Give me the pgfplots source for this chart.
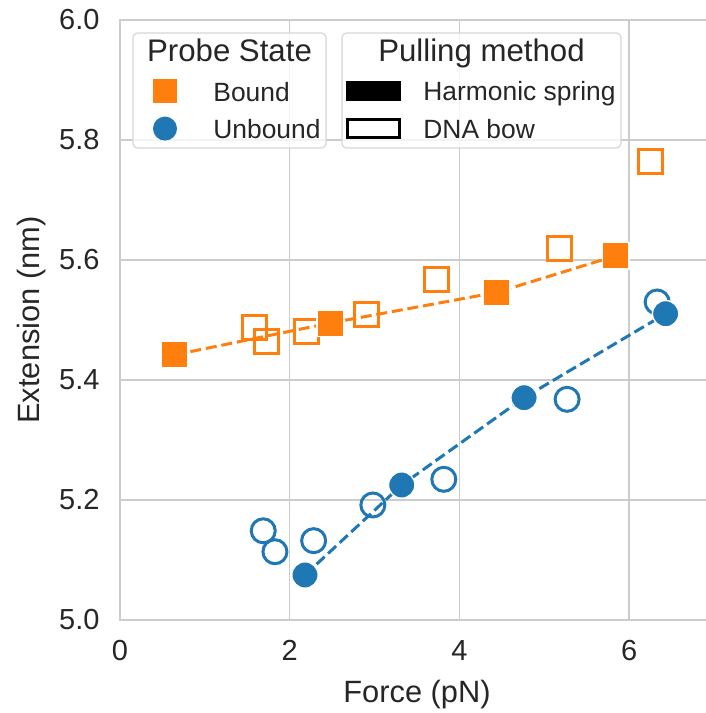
\documentclass[border=0pt]{standalone}
\usepackage{fontspec}
\setmainfont{Liberation Sans}
\usepackage{pgfplots}
\pgfplotsset{compat=1.18}
\definecolor{cOr}{HTML}{FF7F0E}
\definecolor{cBl}{HTML}{1F77B4}
\definecolor{cGr}{HTML}{CCCCCC}
\definecolor{cLg}{HTML}{D6D6D6}
\definecolor{cTx}{HTML}{262626}
\begin{document}
\begin{tikzpicture}
\begin{axis}[name=ax, scale only axis, width=297pt, height=300pt,
  xmin=0, xmax=7, ymin=5.0, ymax=6.0,
  xtick={0,2,4,6}, ytick={5.0,5.2,5.4,5.6,5.8,6.0},
  grid=major, major grid style={cGr, line width=0.7pt},
  axis line style={cGr, line width=0.7pt},
  major tick length=0pt,
  /pgf/number format/assume math mode=true,
  tick label style={font=\fontsize{14.5}{17}\selectfont, text=cTx},
  yticklabel style={/pgf/number format/fixed, /pgf/number format/precision=1, /pgf/number format/fixed zerofill, xshift=-6.7pt},
  xticklabel style={yshift=-6.5pt},
  xlabel={Force (pN)}, ylabel={Extension (nm)},
  every axis x label/.style={at={(rel axis cs:0.5,0)}, yshift=-41pt, anchor=base, font=\fontsize{15.4}{18}\selectfont, text=cTx},
  every axis y label/.style={at={(rel axis cs:0,0.5)}, xshift=-40pt, rotate=90, anchor=base, font=\fontsize{15.4}{18}\selectfont, text=cTx},
]
% DNA bow (open) markers
\addplot[only marks, mark=square, mark size=6pt, cOr, line width=1.5pt] coordinates {
 (1.590,5.4875) (1.728,5.464) (2.203,5.4805) (2.906,5.510) (3.734,5.568) (5.180,5.620) (6.254,5.764)};
\addplot[only marks, mark=o, mark size=6pt, cBl, line width=1.5pt] coordinates {
 (1.688,5.1487) (1.826,5.1138) (2.282,5.1322) (2.980,5.1917) (3.816,5.2345) (5.269,5.3678) (6.330,5.530)};
% dashed lines through harmonic spring points
\addplot[cOr, line width=1.5pt, dash pattern=on 5.5pt off 2.4pt] coordinates {
 (0.647,5.442) (2.479,5.495) (4.440,5.546) (5.842,5.607)};
\addplot[cBl, line width=1.5pt, dash pattern=on 5.5pt off 2.4pt] coordinates {
 (2.180,5.075) (3.320,5.225) (4.762,5.3705) (6.430,5.5105)};
% Harmonic spring (filled) markers
\addplot[only marks, mark=square*, mark size=6.6pt, mark options={fill=cOr, draw=white, line width=0.7pt}] coordinates {
 (0.647,5.442) (2.479,5.495) (4.440,5.546) (5.842,5.607)};
\addplot[only marks, mark=*, mark size=6.6pt, mark options={fill=cBl, draw=white, line width=0.7pt}] coordinates {
 (2.180,5.075) (3.320,5.225) (4.762,5.3705) (6.430,5.5105)};
\end{axis}
\begin{scope}[shift={(ax.north west)}]
 \filldraw[draw=cLg, fill=white, fill opacity=0.8, rounded corners=2.2pt, line width=0.6pt] (6.5pt,-6.5pt) rectangle (103pt,-64pt);
 \node[anchor=base, inner sep=0pt, font=\fontsize{15.6}{18}\selectfont, text=cTx] at (54.75pt,-20.8pt) {Probe State};
 \fill[cOr] (16.5pt,-29.5pt) rectangle (28.5pt,-41.5pt);
 \node[anchor=base west, inner sep=0pt, font=\fontsize{13.2}{16}\selectfont, text=cTx] at (46.5pt,-40.8pt) {Bound};
 \fill[cBl] (22.5pt,-54.3pt) circle (6pt);
 \node[anchor=base west, inner sep=0pt, font=\fontsize{13.2}{16}\selectfont, text=cTx] at (46.5pt,-59.2pt) {Unbound};
 \filldraw[draw=cLg, fill=white, fill opacity=0.8, rounded corners=2.2pt, line width=0.6pt] (111pt,-6.5pt) rectangle (250.5pt,-64pt);
 \node[anchor=base, inner sep=0pt, font=\fontsize{15.6}{18}\selectfont, text=cTx] at (180.75pt,-20.8pt) {Pulling method};
 \fill[black] (113pt,-30.5pt) rectangle (140.5pt,-40.5pt);
 \node[anchor=base west, inner sep=0pt, font=\fontsize{13.2}{16}\selectfont, text=cTx] at (151.5pt,-40.5pt) {Harmonic spring};
 \draw[black, line width=1.5pt] (113.75pt,-49.75pt) rectangle (139.75pt,-58.75pt);
 \node[anchor=base west, inner sep=0pt, font=\fontsize{13.2}{16}\selectfont, text=cTx] at (151.5pt,-59.2pt) {DNA bow};
\end{scope}
\pgfresetboundingbox
\path[use as bounding box] ([shift={(-60pt,-46.5pt)}]ax.south west) rectangle ([shift={(293pt,10pt)}]ax.north west);
\end{tikzpicture}
\end{document}
